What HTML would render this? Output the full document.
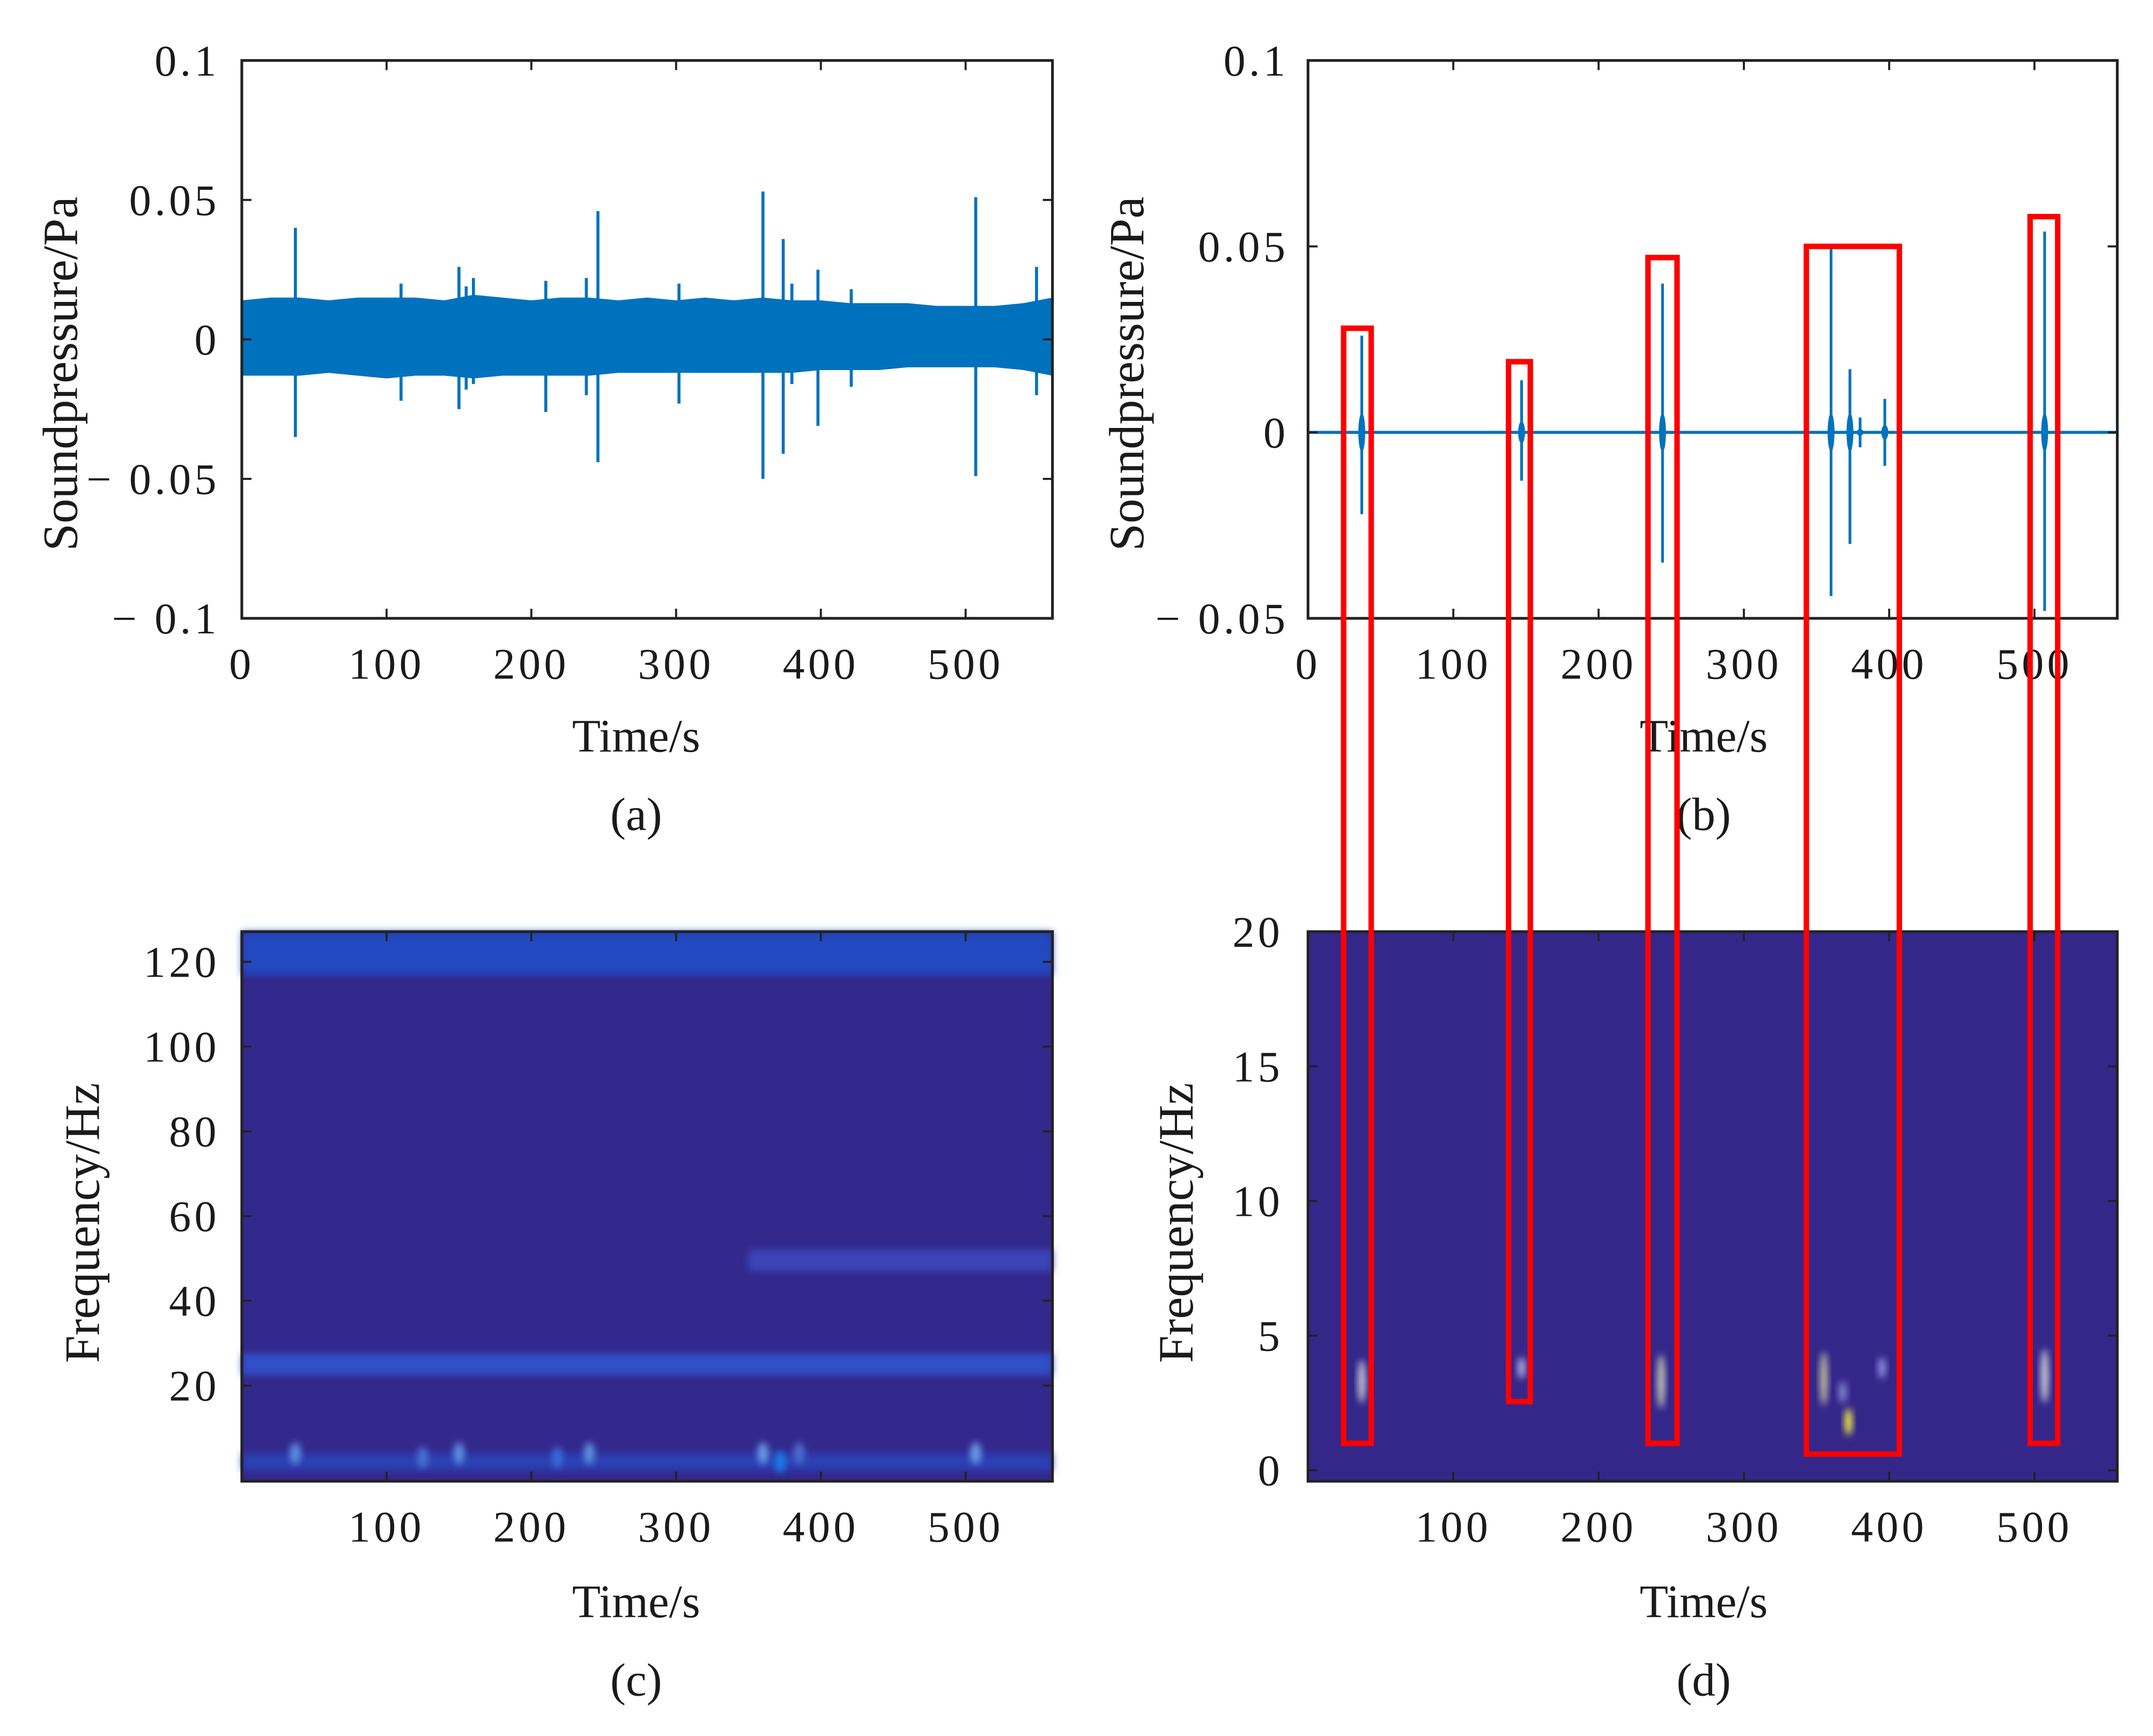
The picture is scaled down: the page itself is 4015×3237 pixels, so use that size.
<!DOCTYPE html>
<html><head><meta charset="utf-8"><style>
html,body{margin:0;padding:0;background:#fff;}
svg{display:block;}
text{font-family:"Liberation Serif",serif;fill:#1a1a1a;}
.tk{font-size:32px;letter-spacing:2.5px;}
.lab{font-size:34px;}
.ylab{font-size:36px;}
</style></head><body>
<svg id="fig" xmlns="http://www.w3.org/2000/svg" width="4015" height="3237" viewBox="0 0 1567 1263.4" preserveAspectRatio="none">
<defs>
<filter id="blur1" x="-50%" y="-50%" width="200%" height="200%"><feGaussianBlur stdDeviation="2.5"/></filter>
</defs>
<g id="pa"></g>
<g id="pb"></g>
<g id="pc"></g>
<g id="pd"></g>
<g id="red"></g>
</svg>
<script>
// ---- data ----
const xTicks = [0,100,200,300,400,500];
const xTicksSpec = [100,200,300,400,500];
const aYTicks = [0.1,0.05,0,-0.05,-0.1];
const aYLabels = ["0.1","0.05","0","− 0.05","− 0.1"];
const bYTicks = [0.1,0.05,0,-0.05];
const bYLabels = ["0.1","0.05","0","− 0.05"];
const cYTicks = [120,100,80,60,40,20];
const dYTicks = [20,15,10,5,0];
// panel a noise envelope
const envT = [0,20,40,60,80,100,120,140,160,180,200,220,240,260,280,300,320,340,360,380,400,420,440,460,480,500,520,540,560];
const envUp = [0.014,0.015,0.015,0.014,0.015,0.015,0.015,0.014,0.016,0.015,0.014,0.015,0.015,0.014,0.015,0.014,0.015,0.014,0.015,0.014,0.014,0.013,0.013,0.013,0.012,0.012,0.012,0.013,0.015];
const envLo = [-0.013,-0.013,-0.013,-0.012,-0.013,-0.014,-0.013,-0.013,-0.014,-0.013,-0.013,-0.013,-0.013,-0.012,-0.012,-0.012,-0.012,-0.012,-0.012,-0.012,-0.011,-0.011,-0.011,-0.010,-0.010,-0.010,-0.010,-0.011,-0.013];
const aSpikeT = [37,110,150,155,160,210,238,246,302,360,374,380,398,421,507,549];
const aSpikeUp = [0.040,0.020,0.026,0.019,0.022,0.021,0.022,0.046,0.020,0.053,0.036,0.020,0.025,0.018,0.051,0.026];
const aSpikeDn = [-0.035,-0.022,-0.025,-0.018,-0.016,-0.026,-0.020,-0.044,-0.023,-0.050,-0.041,-0.016,-0.031,-0.017,-0.049,-0.020];
// panel b events
const bEvT = [37,147,244,360,373,380,397,507];
const bEvUp = [0.026,0.014,0.040,0.050,0.017,0.004,0.009,0.054];
const bEvDn = [-0.022,-0.013,-0.035,-0.044,-0.030,-0.004,-0.009,-0.048];
// panel c bands
const cBandF0 = [117,22.5,47,0];
const cBandF1 = [128,27.5,52,4];
const cBandT0 = [0,0,350,0];
const cBandT1 = [560,560,560,560];
const cBandC = ["#2149c0","#3050c8","#3b44b8","#2c3fb2"];
const cBlobT = [37,125,150,218,240,360,372,385,507];
const cBlobF = [4,3,4,3,4,4,2,4,4];
const cBlobC = ["#5b8fe0","#4a70d0","#5b8fe0","#3a6ad8","#5b8fe0","#6a9ae8","#1a7ae8","#4a70d0","#6a9ae8"];
// panel d blobs
const dBlobT = [37,147,243,355,368,372,395,507];
const dBlobF = [3.3,3.8,3.3,3.4,2.9,1.8,3.8,3.5];
const dBlobH = [1.6,0.8,2.0,2.0,0.8,1.0,0.8,2.0];
const dBlobC = ["#c8c8d8","#b0b0e0","#c8c8b8","#c0c0a0","#8888d8","#f0f040","#9090e0","#d0d0d8"];
// highlight boxes
const boxT0 = [24.5,138,234,343,497];
const boxT1 = [43.5,153,254,407,516];
const boxTop = [0.028,0.019,0.047,0.050,0.058];
const boxBot = [1.0,2.55,1.0,0.6,1.0];

const NS="http://www.w3.org/2000/svg";
function mk(parent,tag,attrs,txt){const e=document.createElementNS(NS,tag);for(const k in attrs)e.setAttribute(k,attrs[k]);if(txt!==undefined)e.textContent=txt;parent.appendChild(e);return e;}

const ax = {L:176,R:766,T:44,B:450};
const bx = {L:952,R:1541,T:44,B:450};
const cx = {L:176,R:766,T:678,B:1078};
const dx = {L:952,R:1541,T:678,B:1078};
const xA = t => ax.L + t*(ax.R-ax.L)/560;
const xB = t => bx.L + t*(bx.R-bx.L)/557;
const yA = v => ax.T + (0.1-v)*(ax.B-ax.T)/0.2;
const yB = v => bx.T + (0.1-v)*(bx.B-bx.T)/0.15;
const xC = t => cx.L + t*(cx.R-cx.L)/560;
const yC = f => 1070 - f*(1070-700)/120;
const xD = t => dx.L + t*(dx.R-dx.L)/557;
const yD = f => 1070 - f*(1070-678)/20;

function frame(g,b,name){
  const r=mk(g,'rect',{x:b.L,y:b.T,width:b.R-b.L,height:b.B-b.T,fill:'none',stroke:'#222','stroke-width':2});
  
  
}
function xAxis(g,b,ticks,fx){
  ticks.forEach(t=>{const x=fx(t);
    mk(g,'line',{x1:x,y1:b.B,x2:x,y2:b.B-7,stroke:'#222','stroke-width':1.5});
    mk(g,'line',{x1:x,y1:b.T,x2:x,y2:b.T+7,stroke:'#222','stroke-width':1.5});
    const tx=mk(g,'text',{x:x,y:b.B+44,'text-anchor':'middle',class:'tk'},String(t));
    
    
  });
}
function yAxis(g,b,ticks,labels,fy,lx){
  ticks.forEach((v,i)=>{const y=fy(v);
    mk(g,'line',{x1:b.L,y1:y,x2:b.L+7,y2:y,stroke:'#222','stroke-width':1.5});
    mk(g,'line',{x1:b.R,y1:y,x2:b.R-7,y2:y,stroke:'#222','stroke-width':1.5});
    const tx=mk(g,'text',{x:lx,y:y+11,'text-anchor':'end',class:'tk'},labels[i]);
    
    
  });
}
function titles(g,cxp,ytx,yty,ytitle,cap,capY){
  const t1=mk(g,'text',{x:cxp,y:capY-45,'text-anchor':'middle',class:'lab'},'Time/s');
  
  
  const t2=mk(g,'text',{x:ytx,y:yty,'text-anchor':'middle',class:'ylab',transform:`rotate(-90 ${ytx} ${yty})`},ytitle);
  
  
  const t3=mk(g,'text',{x:cxp,y:capY+12,'text-anchor':'middle',class:'lab'},cap);
  
  
}

// ---- panel a ----
const pa=document.getElementById('pa');
let pts=envT.map((t,i)=>xA(t)+','+yA(envUp[i]));
for(let i=envT.length-1;i>=0;i--) pts.push(xA(envT[i])+','+yA(envLo[i]));
const band=mk(pa,'polygon',{points:pts.join(' '),fill:'#0072bd'});


aSpikeT.forEach((t,i)=>{
  const l=mk(pa,'line',{x1:xA(t),y1:yA(aSpikeUp[i]),x2:xA(t),y2:yA(aSpikeDn[i]),stroke:'#0072bd','stroke-width':2.2});
  
  
});
frame(pa,ax,'plot-area-a');
xAxis(pa,ax,xTicks,xA);
yAxis(pa,ax,aYTicks,aYLabels,yA,160);
titles(pa,463,56,272,'Soundpressure/Pa','(a)',592);

// ---- panel b ----
const pb=document.getElementById('pb');
const base=mk(pb,'line',{x1:bx.L,y1:yB(0),x2:bx.R,y2:yB(0),stroke:'#0072bd','stroke-width':2.2});


bEvT.forEach((t,i)=>{
  const l=mk(pb,'line',{x1:xB(t),y1:yB(bEvUp[i]),x2:xB(t),y2:yB(bEvDn[i]),stroke:'#0072bd','stroke-width':2});
  
  
  const e=mk(pb,'ellipse',{cx:xB(t),cy:yB(0),rx:2.5,ry:Math.min(14,(bEvUp[i]-bEvDn[i])*300),fill:'#0072bd'});
  
  
});
frame(pb,bx,'plot-area-b');
xAxis(pb,bx,xTicks,xB);
yAxis(pb,bx,bYTicks,bYLabels,yB,938);
titles(pb,1240,832,272,'Soundpressure/Pa','(b)',592);

// ---- panel c ----
const pc=document.getElementById('pc');
const cbg=mk(pc,'rect',{x:cx.L,y:cx.T,width:cx.R-cx.L,height:cx.B-cx.T,fill:'#33288c'});


cBandF0.forEach((f0,i)=>{
  const y0=Math.max(cx.T,yC(cBandF1[i])), y1=Math.min(cx.B,yC(cBandF0[i]));
  const r=mk(pc,'rect',{x:xC(cBandT0[i]),y:y0,width:xC(cBandT1[i])-xC(cBandT0[i]),height:y1-y0,fill:cBandC[i],filter:'url(#blur1)'});
  
  
});
cBlobT.forEach((t,i)=>{
  const e=mk(pc,'ellipse',{cx:xC(t),cy:yC(cBlobF[i]),rx:4,ry:8,fill:cBlobC[i],filter:'url(#blur1)'});
  
  
});
frame(pc,cx,'plot-area-c');
xAxis(pc,cx,xTicksSpec,xC);
yAxis(pc,cx,cYTicks,cYTicks.map(String),yC,160);
titles(pc,463,72,890,'Frequency/Hz','(c)',1222);

// ---- panel d ----
const pd=document.getElementById('pd');
const dbg=mk(pd,'rect',{x:dx.L,y:dx.T,width:dx.R-dx.L,height:dx.B-dx.T,fill:'#35278a'});


dBlobT.forEach((t,i)=>{
  const e=mk(pd,'ellipse',{cx:xD(t),cy:yD(dBlobF[i]),rx:2.8,ry:dBlobH[i]*19.6/2,fill:dBlobC[i],filter:'url(#blur1)'});
  
  
});
frame(pd,dx,'plot-area-d');
xAxis(pd,dx,xTicksSpec,xD);
yAxis(pd,dx,dYTicks,dYTicks.map(String),yD,934);
titles(pd,1240,868,890,'Frequency/Hz','(d)',1222);

// ---- red highlight boxes ----
const rg=document.getElementById('red');
boxT0.forEach((t0,i)=>{
  const x0=xB(t0), x1=xB(boxT1[i]), y0=yB(boxTop[i]), y1=yD(boxBot[i]);
  const r=mk(rg,'rect',{x:x0,y:y0,width:x1-x0,height:y1-y0,fill:'none',stroke:'#ff0000','stroke-width':4});
  
  
});
</script>
</body></html>
